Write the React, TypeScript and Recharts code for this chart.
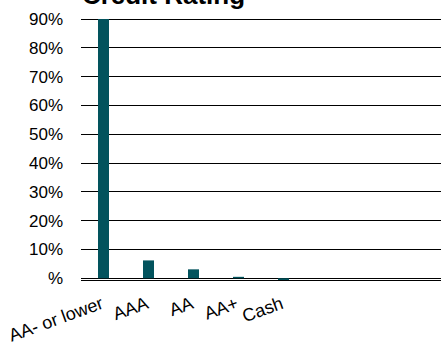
import { BarChart, Bar, XAxis, YAxis, CartesianGrid } from 'recharts'

const ratings = ['AA- or lower', 'AAA', 'AA', 'AA+', 'Cash', '', ' ', '  ']
const weights = [90, 6.2, 3.1, 0.5, -0.6, null, null, null]
const yTicks = [0, 10, 20, 30, 40, 50, 60, 70, 80, 90]

const data = ratings.map((name, i) => ({ name, value: weights[i] }))

const FONT = '"Liberation Sans", Arial, sans-serif'
const BAR_COLOR = '#02535D'

function RatingTick(props: any) {
  const { x, y, payload } = props
  const tx = x + 1
  const ty = y + 28
  return (
    <text
      x={tx}
      y={ty}
      textAnchor="end"
      transform={`rotate(-20, ${tx}, ${ty})`}
      fontSize={18}
      fontFamily={FONT}
      fill="#000"
    >
      {payload.value}
    </text>
  )
}

function GridLine(props: any) {
  const { x1, x2, y1, y2 } = props
  return (
    <line
      x1={x1}
      x2={x2}
      y1={y1}
      y2={y2}
      stroke="#000"
      strokeWidth={1}
      shapeRendering="crispEdges"
    />
  )
}

export default function App() {
  return (
    <div style={{ position: 'absolute', left: 0, top: 0, width: 441, height: 342 }}>
      <BarChart
        width={441}
        height={342}
        data={data}
        margin={{ top: 19, right: 0, bottom: 0, left: 0 }}
      >
        <CartesianGrid vertical={false} horizontal={GridLine} />
        <XAxis
          dataKey="name"
          axisLine={false}
          tickLine={false}
          tickSize={0}
          tickMargin={0}
          height={62}
          interval={0}
          tick={<RatingTick />}
        />
        <YAxis
          width={81}
          domain={['dataMin', 90]}
          ticks={yTicks}
          axisLine={false}
          tickLine={false}
          tickSize={0}
          tickMargin={18}
          tickFormatter={(v: number) => (v === 0 ? '%' : `${v}%`)}
          tick={{ fontSize: 17, fill: '#000', fontFamily: FONT }}
        />
        <Bar dataKey="value" fill={BAR_COLOR} barSize={11} isAnimationActive={false} />
      </BarChart>
      <svg
        width={441}
        height={30}
        style={{ position: 'absolute', left: 0, top: 0, pointerEvents: 'none' }}
      >
        <text
          x={163.5}
          y={4}
          textAnchor="middle"
          fontSize={26}
          fontWeight="bold"
          fontFamily={FONT}
          fill="#000"
        >
          Credit Rating
        </text>
      </svg>
    </div>
  )
}
